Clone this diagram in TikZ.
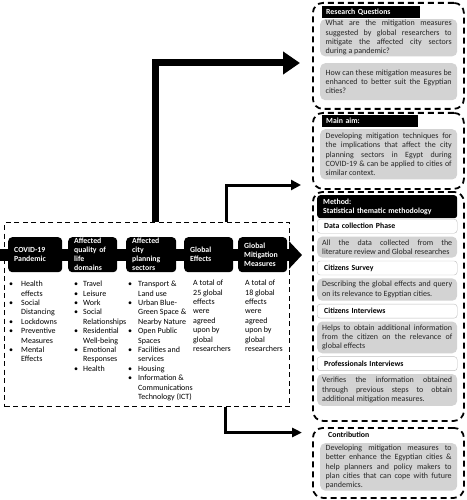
\documentclass[tikz,border=0pt]{standalone}
\usepackage{fontspec}
\setmainfont{Carlito}
\usetikzlibrary{arrows.meta,positioning}
\definecolor{boxgray}{HTML}{D3D3D3}
\definecolor{linegray}{HTML}{BDBDBD}
\definecolor{txtgray}{HTML}{262626}
\begin{document}
\begin{tikzpicture}[x=1pt,y=-1pt,
	font=\fontsize{8}{9.4}\selectfont,
	framebox/.style={draw,line width=1.1pt,dash pattern=on 5pt off 3.5pt,anchor=north west},
	dashbox/.style={draw,line width=1.8pt,dash pattern=on 6pt off 4pt,rounded corners=10pt,anchor=north west,minimum width=151pt},
	headbox/.style={fill=black,text=white,font=\fontsize{7.8}{9}\selectfont\bfseries,rounded corners=4pt,anchor=north west,align=left,inner xsep=6pt,inner ysep=0pt,minimum height=35pt},
	titlebox/.style={fill=black,text=white,font=\fontsize{7.8}{9.4}\selectfont\bfseries,anchor=north west,align=left,inner xsep=4pt,inner ysep=1pt,minimum height=11.5pt},
	phasebox/.style={draw=linegray,fill=white,rounded corners=3pt,font=\fontsize{7.8}{9.4}\selectfont\bfseries,text width=126pt,inner xsep=7pt,inner ysep=1pt,minimum height=14pt,align=left},
	graybox/.style={fill=boxgray,text=txtgray,rounded corners=5pt,align=justify,text width=126pt,inner xsep=5.5pt,inner ysep=3pt},
	listnode/.style={anchor=north west,inner sep=0pt,align=left},
	node distance=3pt,
	line join=miter]
\useasboundingbox (0,0) rectangle (466,500);

\node[framebox,minimum width=285pt,minimum height=184pt] (framework) at (4,222) {};
\coordinate (barstart) at (0,255);
\coordinate (bartip) at (302,255);
\draw[line width=12pt,-{Triangle[length=13pt,width=27pt]}] (barstart) -- (bartip);
\foreach \n/\x/\w/\t in {covid/8/54/{COVID-19\\Pandemic},qol/68/49/{Affected\\quality of\\life\\domains},city/126/50/{Affected\\city\\planning\\sectors},geff/184/49/{Global\\Effects},gmit/238/49/{Global\\Mitigation\\Measures}} {
	\pgfmathsetmacro{\tw}{\w-12}
	\node[headbox,minimum width=\w pt,text width=\tw pt] (\n) at (\x,237) {\t};
}

\node[listnode] (covidlist) at (9,280) {\begin{tabular}{@{}p{12pt}@{}l@{}}
	\textbullet & Health\\ & effects\\
	\textbullet & Social\\ & Distancing\\
	\textbullet & Lockdowns\\
	\textbullet & Preventive\\ & Measures\\
	\textbullet & Mental\\ & Effects
\end{tabular}};
\node[listnode] (qollist) at (74,280) {\begin{tabular}{@{}p{9pt}@{}l@{}}
	\textbullet & Travel\\
	\textbullet & Leisure\\
	\textbullet & Work\\
	\textbullet & Social\\ & Relationships\\
	\textbullet & Residential\\ & Well-being\\
	\textbullet & Emotional\\ & Responses\\
	\textbullet & Health
\end{tabular}};
\node[listnode] (citylist) at (128,280) {\begin{tabular}{@{}p{10pt}@{}l@{}}
	\textbullet & Transport \&\\ & Land use\\
	\textbullet & Urban Blue-\\ & Green Space \&\\ & Nearby Nature\\
	\textbullet & Open Public\\ & Spaces\\
	\textbullet & Facilities and\\ & services\\
	\textbullet & Housing\\
	\textbullet & Information \&\\ & Communications\\ & Technology (ICT)
\end{tabular}};
\node[listnode] (gefftext) at (193,280) {A total of\\25 global\\effects\\were\\agreed\\upon by\\global\\researchers};
\node[listnode] (gmittext) at (245,280) {A total of\\18 global\\effects\\were\\agreed\\upon by\\global\\researchers};

\node[dashbox,minimum height=106pt] (rq) at (312,2) {};
\node[titlebox,text width=90pt] (rqhead) at (322,6) {Research Questions};
\node[graybox,anchor=north west,inner ysep=1pt] (rqone) at (320,19) {What are the mitigation measures\linebreak suggested by global researchers to\linebreak mitigate the affected city sectors\linebreak during a pandemic?};
\node[graybox,anchor=north west,minimum height=37pt] (rqtwo) at (320,63) {How can these mitigation measures be\linebreak enhanced to better suit the Egyptian\linebreak cities?};

\node[dashbox,minimum height=76pt] (aim) at (312,112) {};
\node[titlebox,text width=88pt] (aimhead) at (322,115) {Main aim:};
\node[graybox,anchor=north west,inner ysep=3.5pt] (aimtext) at (320,129) {Developing mitigation techniques for\linebreak the implications that affect the city\linebreak planning sectors in Egypt during\linebreak COVID-19 \& can be applied to cities of\linebreak similar context.};

\node[dashbox,minimum height=229pt] (method) at (312,191) {};
\node[titlebox,text width=128pt,inner xsep=6pt,minimum height=23pt,rounded corners=3pt] (methead) at (317,195) {Method:\\Statistical thematic methodology};
\node[phasebox,anchor=north west] (dcp) at (317,219) {Data collection Phase};
\node[graybox,text width=130pt,inner xsep=5pt,below=of dcp] (dcptext) {All the data collected from the\linebreak literature review and Global researches};
\node[phasebox,below=of dcptext] (survey) {Citizens Survey};
\node[graybox,text width=130pt,inner xsep=5pt,below=of survey] (surveytext) {Describing the global effects and query\linebreak on its relevance to Egyptian cities.};
\node[phasebox,below=of surveytext] (cint) {Citizens Interviews};
\node[graybox,text width=130pt,inner xsep=5pt,below=of cint] (cinttext) {Helps to obtain additional information\linebreak from the citizen on the relevance of\linebreak global effects};
\node[phasebox,below=of cinttext] (pint) {Professionals Interviews};
\node[graybox,text width=130pt,inner xsep=5pt,below=of pint] (pinttext) {Verifies the information obtained\linebreak through previous steps to obtain\linebreak additional mitigation measures.};

\node[dashbox,minimum height=70pt] (contrib) at (312,427) {};
\node[anchor=north west,inner sep=1pt,font=\fontsize{7.8}{9.4}\selectfont\bfseries] (contribhead) at (327,431) {Contribution};
\node[graybox,anchor=north west,inner ysep=1.5pt] (contribtext) at (320,443) {Developing mitigation measures to\linebreak better enhance the Egyptian cities \&\linebreak help planners and policy makers to\linebreak plan cities that can cope with future\linebreak pandemics.};

\coordinate (qfoot) at (155.5,222);
\coordinate (qtip) at (300,63);
\coordinate (afoot) at (226,222);
\coordinate (atip) at (301,185);
\coordinate (cfoot) at (225.5,406);
\coordinate (ctip) at (302,432.5);
\draw[line width=7pt,-{Triangle[length=17pt,width=22pt]}] (framework.north -| qfoot) |- (qtip);
\draw[line width=3pt,-{Triangle[length=10pt,width=10pt]}] (framework.north -| afoot) |- (atip);
\draw[line width=3pt,-{Triangle[length=10pt,width=9pt]}] (framework.south -| cfoot) |- (ctip);
\end{tikzpicture}
\end{document}
